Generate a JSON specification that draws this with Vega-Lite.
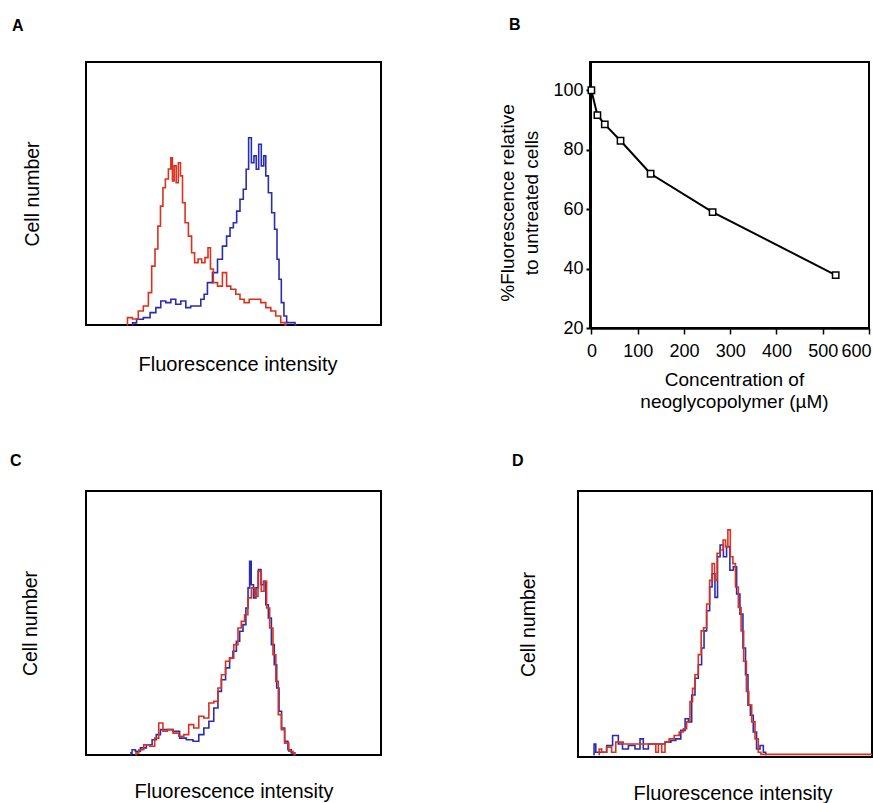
{
  "$schema": "https://vega.github.io/schema/vega-lite/v6.json",
  "background": "white",
  "padding": {"left": 9, "top": 16, "right": 0, "bottom": 0},
  "autosize": {"type": "pad"},
  "config": {
    "font": "Liberation Sans",
    "view": {"stroke": "#000", "strokeWidth": 2},
    "axis": {"grid": false, "titleFontWeight": "normal", "titleColor": "#000", "labelColor": "#000", "tickColor": "#000", "domainColor": "#000"},
    "title": {"fontSize": 16, "fontWeight": "bold", "anchor": "start", "frame": "group", "color": "#000"}
  },
  "datasets": {
    "A": [
      {"s":"b","ch":159,"n":0},{"s":"b","ch":164,"n":0.8},{"s":"b","ch":187,"n":2.2},{"s":"b","ch":211,"n":2.8},{"s":"b","ch":234,"n":4.7},{"s":"b","ch":251,"n":6.6},{"s":"b","ch":268,"n":9.1},{"s":"b","ch":286,"n":8.5},{"s":"b","ch":303,"n":9.8},{"s":"b","ch":320,"n":7.9},{"s":"b","ch":338,"n":9.1},{"s":"b","ch":355,"n":6.6},{"s":"b","ch":372,"n":7.2},{"s":"b","ch":390,"n":7.2},{"s":"b","ch":407,"n":9.8},{"s":"b","ch":413,"n":11.7},{"s":"b","ch":430,"n":16.1},{"s":"b","ch":448,"n":19.9},{"s":"b","ch":465,"n":25.0},{"s":"b","ch":482,"n":30.0},{"s":"b","ch":494,"n":33.8},{"s":"b","ch":506,"n":37.0},{"s":"b","ch":517,"n":38.9},{"s":"b","ch":529,"n":43.3},{"s":"b","ch":540,"n":47.8},{"s":"b","ch":552,"n":51.6},{"s":"b","ch":560,"n":59.2},{"s":"b","ch":569,"n":71.2},{"s":"b","ch":579,"n":61.7},{"s":"b","ch":587,"n":64.3},{"s":"b","ch":595,"n":59.2},{"s":"b","ch":604,"n":68.7},{"s":"b","ch":613,"n":60.5},{"s":"b","ch":621,"n":64.3},{"s":"b","ch":627,"n":56.7},{"s":"b","ch":639,"n":50.3},{"s":"b","ch":650,"n":42.7},{"s":"b","ch":659,"n":36.4},{"s":"b","ch":667,"n":25.0},{"s":"b","ch":673,"n":17.4},{"s":"b","ch":683,"n":8.5},{"s":"b","ch":691,"n":3.4},{"s":"b","ch":702,"n":0.9},{"s":"b","ch":720,"n":0.9},{"s":"b","ch":731,"n":0},
      {"s":"r","ch":142,"n":0},{"s":"r","ch":146,"n":2.8},{"s":"r","ch":176,"n":2.3},{"s":"r","ch":187,"n":5.3},{"s":"r","ch":211,"n":7.2},{"s":"r","ch":222,"n":12.3},{"s":"r","ch":234,"n":22.4},{"s":"r","ch":245,"n":28.9},{"s":"r","ch":254,"n":37.6},{"s":"r","ch":263,"n":45.2},{"s":"r","ch":271,"n":52.2},{"s":"r","ch":280,"n":55.5},{"s":"r","ch":292,"n":59.3},{"s":"r","ch":297,"n":63.6},{"s":"r","ch":303,"n":54.8},{"s":"r","ch":309,"n":60.5},{"s":"r","ch":317,"n":54.1},{"s":"r","ch":324,"n":61.7},{"s":"r","ch":332,"n":56.7},{"s":"r","ch":338,"n":46.5},{"s":"r","ch":350,"n":38.9},{"s":"r","ch":361,"n":33.8},{"s":"r","ch":372,"n":27.5},{"s":"r","ch":382,"n":23.7},{"s":"r","ch":396,"n":25.1},{"s":"r","ch":407,"n":23.7},{"s":"r","ch":419,"n":25.6},{"s":"r","ch":428,"n":29.4},{"s":"r","ch":436,"n":21.3},{"s":"r","ch":448,"n":16.1},{"s":"r","ch":465,"n":14.8},{"s":"r","ch":482,"n":19.9},{"s":"r","ch":494,"n":14.8},{"s":"r","ch":511,"n":13.6},{"s":"r","ch":529,"n":11.7},{"s":"r","ch":540,"n":9.8},{"s":"r","ch":558,"n":8.5},{"s":"r","ch":575,"n":9.8},{"s":"r","ch":598,"n":9.8},{"s":"r","ch":615,"n":8.5},{"s":"r","ch":633,"n":6.6},{"s":"r","ch":650,"n":5.3},{"s":"r","ch":667,"n":3.4},{"s":"r","ch":685,"n":0.9},{"s":"r","ch":697,"n":0}
    ],
    "B": [
      {"conc":0,"pct":100},{"conc":13,"pct":91.6},{"conc":29,"pct":88.5},{"conc":63,"pct":83},{"conc":128,"pct":71.9},{"conc":262,"pct":59},{"conc":528,"pct":37.8}
    ],
    "C": [
      {"s":"b","ch":155,"n":0},{"s":"b","ch":157,"n":0.8},{"s":"b","ch":163,"n":2.0},{"s":"b","ch":180,"n":1.4},{"s":"b","ch":198,"n":2.7},{"s":"b","ch":221,"n":3.9},{"s":"b","ch":238,"n":5.8},{"s":"b","ch":250,"n":7.7},{"s":"b","ch":267,"n":9.6},{"s":"b","ch":291,"n":9.6},{"s":"b","ch":313,"n":9.0},{"s":"b","ch":337,"n":6.4},{"s":"b","ch":360,"n":5.8},{"s":"b","ch":383,"n":5.2},{"s":"b","ch":400,"n":7.7},{"s":"b","ch":418,"n":10.2},{"s":"b","ch":435,"n":12.8},{"s":"b","ch":452,"n":17.8},{"s":"b","ch":464,"n":24.1},{"s":"b","ch":476,"n":28.5},{"s":"b","ch":493,"n":33.0},{"s":"b","ch":504,"n":36.7},{"s":"b","ch":516,"n":39.3},{"s":"b","ch":528,"n":43.1},{"s":"b","ch":539,"n":46.9},{"s":"b","ch":551,"n":49.4},{"s":"b","ch":559,"n":55.7},{"s":"b","ch":566,"n":63.3},{"s":"b","ch":570,"n":73.4},{"s":"b","ch":577,"n":64.5},{"s":"b","ch":586,"n":59.5},{"s":"b","ch":594,"n":63.3},{"s":"b","ch":603,"n":70.2},{"s":"b","ch":612,"n":64.5},{"s":"b","ch":620,"n":65.8},{"s":"b","ch":628,"n":56.9},{"s":"b","ch":638,"n":51.9},{"s":"b","ch":649,"n":41.8},{"s":"b","ch":658,"n":34.2},{"s":"b","ch":666,"n":25.4},{"s":"b","ch":674,"n":16.6},{"s":"b","ch":684,"n":10.2},{"s":"b","ch":695,"n":5.2},{"s":"b","ch":707,"n":2.0},{"s":"b","ch":718,"n":0.8},{"s":"b","ch":722,"n":0},
      {"s":"r","ch":172,"n":0},{"s":"r","ch":175,"n":0.8},{"s":"r","ch":192,"n":2.0},{"s":"r","ch":209,"n":3.9},{"s":"r","ch":233,"n":3.3},{"s":"r","ch":244,"n":6.4},{"s":"r","ch":261,"n":12.1},{"s":"r","ch":273,"n":9.0},{"s":"r","ch":291,"n":9.6},{"s":"r","ch":313,"n":8.3},{"s":"r","ch":331,"n":7.1},{"s":"r","ch":348,"n":7.7},{"s":"r","ch":365,"n":11.5},{"s":"r","ch":383,"n":10.2},{"s":"r","ch":400,"n":14.7},{"s":"r","ch":418,"n":14.0},{"s":"r","ch":435,"n":19.7},{"s":"r","ch":452,"n":20.3},{"s":"r","ch":464,"n":25.4},{"s":"r","ch":476,"n":30.4},{"s":"r","ch":493,"n":35.5},{"s":"r","ch":504,"n":36.7},{"s":"r","ch":522,"n":41.8},{"s":"r","ch":533,"n":48.1},{"s":"r","ch":545,"n":50.6},{"s":"r","ch":556,"n":53.1},{"s":"r","ch":568,"n":59.5},{"s":"r","ch":580,"n":63.3},{"s":"r","ch":591,"n":60.1},{"s":"r","ch":603,"n":69.6},{"s":"r","ch":614,"n":62.0},{"s":"r","ch":622,"n":65.8},{"s":"r","ch":632,"n":55.7},{"s":"r","ch":643,"n":48.1},{"s":"r","ch":655,"n":38.0},{"s":"r","ch":663,"n":27.9},{"s":"r","ch":672,"n":15.3},{"s":"r","ch":684,"n":9.6},{"s":"r","ch":695,"n":4.5},{"s":"r","ch":713,"n":1.4},{"s":"r","ch":724,"n":0.8},{"s":"r","ch":727,"n":0}
    ],
    "D": [
      {"s":"b","ch":53,"n":0},{"s":"b","ch":59,"n":3.9},{"s":"b","ch":65,"n":0.8},{"s":"b","ch":94,"n":0.8},{"s":"b","ch":106,"n":3.3},{"s":"b","ch":135,"n":7.1},{"s":"b","ch":146,"n":3.9},{"s":"b","ch":164,"n":2.0},{"s":"b","ch":187,"n":3.3},{"s":"b","ch":210,"n":2.0},{"s":"b","ch":222,"n":5.8},{"s":"b","ch":233,"n":2.0},{"s":"b","ch":257,"n":3.9},{"s":"b","ch":292,"n":3.9},{"s":"b","ch":315,"n":4.6},{"s":"b","ch":332,"n":5.2},{"s":"b","ch":349,"n":5.8},{"s":"b","ch":367,"n":9.0},{"s":"b","ch":379,"n":13.4},{"s":"b","ch":390,"n":12.2},{"s":"b","ch":402,"n":22.3},{"s":"b","ch":413,"n":28.6},{"s":"b","ch":425,"n":33.7},{"s":"b","ch":436,"n":40.0},{"s":"b","ch":442,"n":46.4},{"s":"b","ch":454,"n":54.0},{"s":"b","ch":463,"n":62.9},{"s":"b","ch":471,"n":67.9},{"s":"b","ch":483,"n":59.0},{"s":"b","ch":489,"n":74.3},{"s":"b","ch":501,"n":78.7},{"s":"b","ch":512,"n":74.3},{"s":"b","ch":523,"n":78.1},{"s":"b","ch":535,"n":69.2},{"s":"b","ch":547,"n":70.5},{"s":"b","ch":558,"n":60.3},{"s":"b","ch":570,"n":52.7},{"s":"b","ch":579,"n":40.0},{"s":"b","ch":588,"n":29.9},{"s":"b","ch":596,"n":18.5},{"s":"b","ch":605,"n":14.7},{"s":"b","ch":616,"n":8.4},{"s":"b","ch":628,"n":2.0},{"s":"b","ch":640,"n":3.3},{"s":"b","ch":651,"n":0.8},{"s":"b","ch":657,"n":0},
      {"s":"r","ch":71,"n":0},{"s":"r","ch":77,"n":2.0},{"s":"r","ch":88,"n":0.8},{"s":"r","ch":111,"n":2.7},{"s":"r","ch":123,"n":0.8},{"s":"r","ch":140,"n":4.6},{"s":"r","ch":175,"n":3.9},{"s":"r","ch":210,"n":3.9},{"s":"r","ch":268,"n":3.9},{"s":"r","ch":274,"n":0.8},{"s":"r","ch":286,"n":3.9},{"s":"r","ch":297,"n":0.8},{"s":"r","ch":309,"n":4.6},{"s":"r","ch":326,"n":5.8},{"s":"r","ch":344,"n":7.1},{"s":"r","ch":361,"n":8.4},{"s":"r","ch":373,"n":9.6},{"s":"r","ch":384,"n":12.2},{"s":"r","ch":396,"n":19.8},{"s":"r","ch":402,"n":24.8},{"s":"r","ch":413,"n":29.9},{"s":"r","ch":425,"n":37.5},{"s":"r","ch":433,"n":46.4},{"s":"r","ch":442,"n":47.6},{"s":"r","ch":454,"n":56.5},{"s":"r","ch":463,"n":65.4},{"s":"r","ch":471,"n":71.7},{"s":"r","ch":480,"n":65.4},{"s":"r","ch":489,"n":75.6},{"s":"r","ch":501,"n":76.8},{"s":"r","ch":510,"n":80.6},{"s":"r","ch":518,"n":78.1},{"s":"r","ch":526,"n":84.4},{"s":"r","ch":535,"n":74.3},{"s":"r","ch":544,"n":71.7},{"s":"r","ch":553,"n":62.9},{"s":"r","ch":564,"n":55.2},{"s":"r","ch":572,"n":46.4},{"s":"r","ch":582,"n":35.0},{"s":"r","ch":591,"n":23.6},{"s":"r","ch":599,"n":18.5},{"s":"r","ch":611,"n":12.2},{"s":"r","ch":622,"n":5.8},{"s":"r","ch":634,"n":0.8},{"s":"r","ch":640,"n":0},{"s":"r","ch":1024,"n":0}
    ]
  },
  "spacing": 40,
  "vconcat": [
    {
      "spacing": 115,
      "hconcat": [
        {
          "width": 295, "height": 263,
          "title": {"text": "A", "dx": -74, "offset": 28},
          "data": {"name": "A"},
          "encoding": {
            "x": {"field": "ch", "type": "quantitative", "scale": {"domain": [0, 1024], "nice": false, "zero": false},
                  "axis": {"title": "Fluorescence intensity", "labels": false, "ticks": false, "domain": false, "titlePadding": 29, "titleFontSize": 20, "titleX": 151.5}},
            "y": {"field": "n", "type": "quantitative", "scale": {"domain": [0, 100], "nice": false},
                  "axis": {"title": "Cell number", "labels": false, "ticks": false, "domain": false, "titlePadding": 44, "titleFontSize": 19.5}}
          },
          "layer": [
            {"transform": [{"filter": "datum.s === 'b'"}], "mark": {"type": "line", "interpolate": "step", "color": "#2b2db0", "strokeWidth": 1.6}},
            {"transform": [{"filter": "datum.s === 'r'"}], "mark": {"type": "line", "interpolate": "step", "color": "#d9321f", "strokeWidth": 1.6}}
          ]
        },
        {
          "width": 279, "height": 266,
          "title": {"text": "B", "dx": -81, "offset": 29},
          "data": {"name": "B"},
          "encoding": {
            "x": {"field": "conc", "type": "quantitative", "scale": {"domain": [-3, 600], "nice": false, "zero": false},
                  "axis": {"values": [0, 100, 200, 300, 400, 500, 600], "format": "d", "labelFontSize": 18, "labelFlush": 1, "labelFlushOffset": 2, "labelOverlap": false, "tickSize": 6, "tickWidth": 1.5, "labelPadding": 8, "domainWidth": 2.5,
                           "title": ["Concentration of", "neoglycopolymer  (µM)"], "titleFontSize": 19, "titleLineHeight": 22, "titlePadding": 10, "titleX": 144}},
            "y": {"field": "pct", "type": "quantitative", "scale": {"domain": [20, 109.5], "nice": false, "zero": false},
                  "axis": {"values": [20, 40, 60, 80, 100], "format": "d", "labelFontSize": 18, "labelFlush": false, "labelOverlap": false, "tickSize": 4, "tickWidth": 2, "labelPadding": 3, "domainWidth": 3,
                           "title": ["%Fluorescence relative", "to untreated cells"], "titleFontSize": 19, "titleLineHeight": 24, "titlePadding": 11, "titleY": 140.5}}
          },
          "layer": [
            {"mark": {"type": "line", "color": "#000", "strokeWidth": 2}},
            {"mark": {"type": "point", "shape": "square", "filled": true, "fill": "#fff", "stroke": "#000", "strokeWidth": 1.5, "size": 40, "opacity": 1}}
          ]
        }
      ]
    },
    {
      "spacing": 129,
      "hconcat": [
        {
          "width": 295, "height": 264,
          "title": {"text": "C", "dx": -76, "offset": 22},
          "data": {"name": "C"},
          "encoding": {
            "x": {"field": "ch", "type": "quantitative", "scale": {"domain": [0, 1024], "nice": false, "zero": false},
                  "axis": {"title": "Fluorescence intensity", "labels": false, "ticks": false, "domain": false, "titlePadding": 26, "titleFontSize": 20}},
            "y": {"field": "n", "type": "quantitative", "scale": {"domain": [0, 100], "nice": false},
                  "axis": {"title": "Cell number", "labels": false, "ticks": false, "domain": false, "titlePadding": 46, "titleFontSize": 19.5}}
          },
          "layer": [
            {"transform": [{"filter": "datum.s === 'b'"}], "mark": {"type": "line", "interpolate": "step", "color": "#2b2db0", "strokeWidth": 1.6}},
            {"transform": [{"filter": "datum.s === 'r'"}], "mark": {"type": "line", "interpolate": "step", "color": "#d9321f", "strokeWidth": 1.6}}
          ]
        },
        {
          "width": 294, "height": 266,
          "title": {"text": "D", "dx": -66, "offset": 22},
          "data": {"name": "D"},
          "encoding": {
            "x": {"field": "ch", "type": "quantitative", "scale": {"domain": [0, 1024], "nice": false, "zero": false},
                  "axis": {"title": "Fluorescence intensity", "labels": false, "ticks": false, "domain": false, "titlePadding": 26, "titleFontSize": 20, "titleX": 154.5}},
            "y": {"field": "n", "type": "quantitative", "scale": {"domain": [-1, 99], "nice": false, "zero": false},
                  "axis": {"title": "Cell number", "labels": false, "ticks": false, "domain": false, "titlePadding": 40, "titleFontSize": 19.5}}
          },
          "layer": [
            {"transform": [{"filter": "datum.s === 'b'"}], "mark": {"type": "line", "interpolate": "step", "color": "#2b2db0", "strokeWidth": 1.6}},
            {"transform": [{"filter": "datum.s === 'r'"}], "mark": {"type": "line", "interpolate": "step", "color": "#d9321f", "strokeWidth": 1.6}}
          ]
        }
      ]
    }
  ]
}
